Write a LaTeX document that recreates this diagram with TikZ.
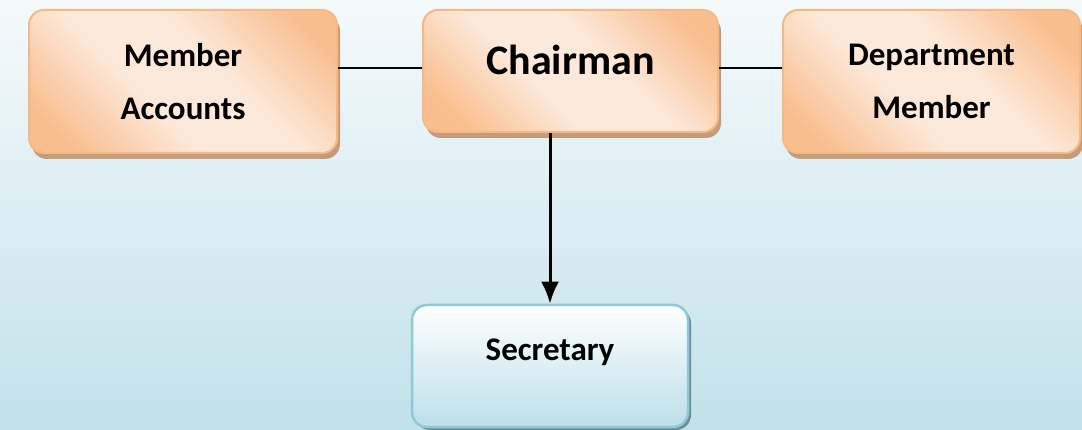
\documentclass[tikz,border=0pt]{standalone}
\usepackage{fontspec}
\setmainfont{Carlito}
\usetikzlibrary{arrows.meta,shadows}
\definecolor{bgtop}{HTML}{F5FAFC}
\definecolor{bgbottom}{HTML}{C2E1EA}
\definecolor{peachdark}{HTML}{F9BE8E}
\definecolor{peachlight}{HTML}{FDE9DA}
\definecolor{peachedge}{HTML}{F8B884}
\definecolor{shadowbrown}{HTML}{C49C7C}
\definecolor{secbottom}{HTML}{BCDFE9}
\definecolor{secedge}{HTML}{8CCAD9}
\definecolor{secshadow}{HTML}{6E8E99}
\pgfdeclareverticalshading{peach}{100bp}{color(0bp)=(peachdark); color(22bp)=(peachdark);
  color(42bp)=(peachlight); color(58bp)=(peachlight); color(78bp)=(peachdark); color(100bp)=(peachdark)}

\begin{document}
\begin{tikzpicture}[x=1pt,y=-1pt,
    box/.style={rectangle,rounded corners=15pt,draw=peachedge,line width=2pt,
                shade,shading=peach,shading angle=-45,
                font=\fontsize{33}{53}\selectfont\bfseries,align=center,
                drop shadow={shadow xshift=3pt,shadow yshift=-6pt,fill=shadowbrown,opacity=1}},
    secbox/.style={rectangle,rounded corners=15pt,draw=secedge,line width=2.5pt,
                top color=white,bottom color=secbottom,
                font=\fontsize{33}{53}\selectfont\bfseries,
                drop shadow={shadow xshift=3pt,shadow yshift=-3pt,fill=secshadow,opacity=1}},
    link/.style={line width=2pt}
  ]
    \useasboundingbox (0,0) rectangle (1082,430);
    \shade[top color=bgtop,bottom color=bgbottom] (0,0) rectangle (1082,430);

    \node[box,minimum width=308pt,minimum height=143pt] (acc) at (183,81.5) {Member\\Accounts};
    \node[box,minimum width=295pt,minimum height=122pt,font=\fontsize{42}{50}\selectfont\bfseries,
          text height=30pt,text depth=22pt] (chair) at (570.5,71) {Chairman};
    \node[box,minimum width=297pt,minimum height=143pt] (dept) at (931.5,81.5) {Department\\Member};
    \node[secbox,minimum width=276pt,minimum height=122pt,text height=24pt,text depth=36pt] (sec) at (550,366) {Secretary};

    \draw[link] ([yshift=3pt]chair.west) -- ([yshift=3pt]chair.west -| acc.east);
    \draw[link] ([yshift=3pt]chair.east) -- ([yshift=3pt]chair.east -| dept.west);
    \draw[line width=3pt,-{Latex[length=22pt,width=18pt]}] (chair.south -| sec.north) -- (sec.north);
\end{tikzpicture}
\end{document}
